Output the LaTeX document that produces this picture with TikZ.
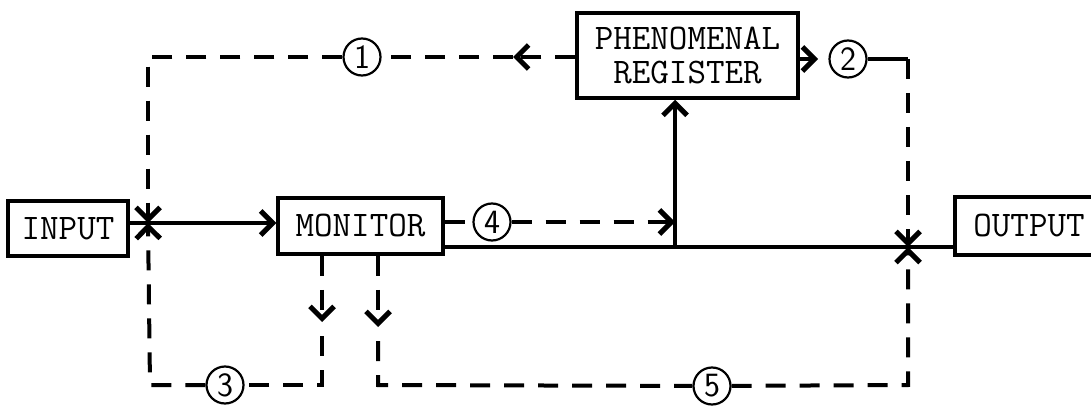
\documentclass[tikz,border=0pt]{standalone}
\usetikzlibrary{arrows.meta}
\begin{document}
\begin{tikzpicture}[x=1pt,y=-1pt,
  box/.style={draw,line width=3.5pt,align=center,inner sep=0pt,
    font=\fontsize{36}{34}\selectfont\ttfamily},
  solidline/.style={line width=3.2pt},
  dashline/.style={line width=4pt,dash pattern=on 20pt off 14pt},
  tip/.style={-{Straight Barb[length=12pt,width=24pt,line width=5pt]}},
  num/.style={circle,draw,line width=2.2pt,fill=white,minimum size=37pt,inner sep=0pt,
    font=\fontsize{34}{34}\selectfont\sffamily}]
\clip (0,0) rectangle (1091,406);

% blocks
\node[box,minimum width=120pt,minimum height=55pt] (input) at (68,228.5) {INPUT};
\node[box,minimum width=165pt,minimum height=56pt] (monitor) at (360.5,226) {MONITOR};
\node[box,minimum width=221pt,minimum height=85pt] (pr) at (687.5,55.5) {PHENOMENAL\\REGISTER};
\node[box,minimum width=148pt,minimum height=58pt] (output) at (1029,226) {OUTPUT};

% numbered loops
\node[num] (n1) at (362,57) {1};
\node[num] (n2) at (848,59) {2};
\node[num] (n3) at (225,385) {3};
\node[num] (n4) at (492,222) {4};
\node[num] (n5) at (712,386) {5};

% junctions and corners
\coordinate (jL) at (148,223);
\coordinate (jR) at (908,247);
\coordinate (tee) at (675,247);
\coordinate (m1) at (513,57);
\coordinate (c1) at (148,57);
\coordinate (a2) at (818,59);
\coordinate (c2) at (908,59);
\coordinate (a3) at (322,322);
\coordinate (a3b) at (322,336);
\coordinate (c3r) at (322,385);
\coordinate (c3l) at (150,385);
\coordinate (a5) at (378,327);
\coordinate (a5b) at (378,341);
\coordinate (c5l) at (378,385);
\coordinate (c5r) at (908,385);
\coordinate (t4) at (675,222);

% main signal path
\draw[solidline] (input.east |- jL) -- (jL);
\draw[solidline,tip] (jL) -- (monitor.west |- jL);
\draw[solidline] (monitor.east |- tee) -- (tee) -- (jR) -- (output.west |- jR);
\draw[solidline,tip] (tee) -- (pr.south -| tee);

% loop 1
\draw[dashline,tip] (pr.west |- m1) -- (m1);
\draw[dashline] (m1) -- (n1);
\draw[dashline,tip] (n1) -- (c1) -- (jL);

% loop 2
\draw[solidline,tip] (pr.east |- a2) -- (a2);
\draw[line width=3.2pt] (n2) -- (c2);
\draw[dashline,tip] (c2) -- (jR);

% loop 3
\draw[dashline,tip] (monitor.south -| a3) -- (a3);
\draw[dashline] (a3b) -- (c3r) -- (n3);
\draw[dashline,tip] (n3) -- (c3l) -- (jL);

% loop 4
\draw[dashline] (monitor.east |- n4) -- (n4);
\draw[dashline,tip] (n4) -- (t4);

% loop 5
\draw[dashline,tip] (monitor.south -| a5) -- (a5);
\draw[dashline] (a5b) -- (c5l) -- (n5);
\draw[dashline,tip] (n5) -- (c5r) -- (jR);
\end{tikzpicture}
\end{document}
